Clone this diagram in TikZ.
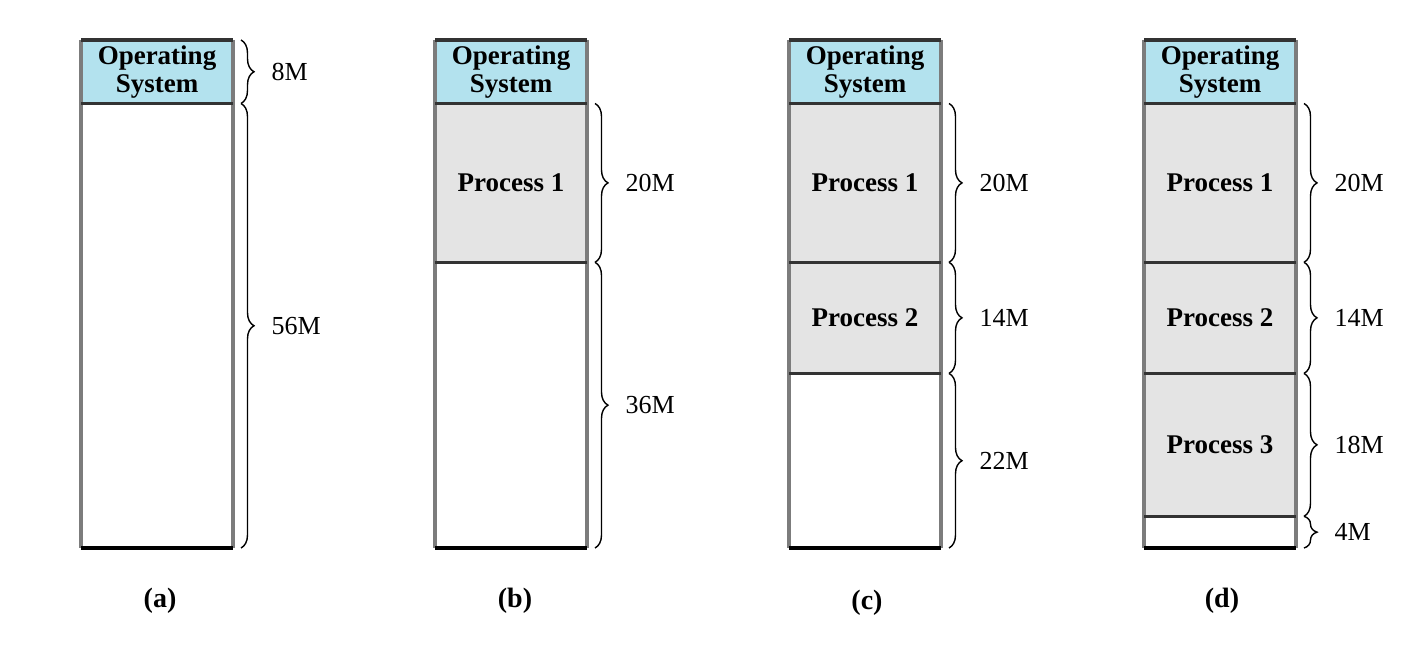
\documentclass[tikz,border=0pt]{standalone}
\usepackage{fontspec}
\setmainfont{Liberation Serif}
\usetikzlibrary{decorations.pathreplacing}
\definecolor{osblue}{HTML}{B3E2EE}
\definecolor{procgray}{HTML}{E4E4E4}
\definecolor{sidegray}{HTML}{7C7C7C}
\definecolor{darkline}{HTML}{333333}
\begin{document}
\begin{tikzpicture}[x=1pt,y=1pt,
  region/.style={minimum width=152pt, inner sep=0pt, outer sep=0pt, align=center,
    font=\fontsize{27}{28}\selectfont\bfseries},
  osbox/.style={region, fill=osblue, minimum height=63.5pt},
  procbox/.style={region, fill=procgray},
  freebox/.style={region, fill=white},
  side/.style={draw=sidegray, line width=3.5pt},
  hsep/.style={draw=darkline, line width=3.5pt},
  hbot/.style={draw=black, line width=3.5pt},
  br/.style={decorate, decoration={brace, amplitude=13pt}, line width=1.4pt},
  sizelab/.style={font=\fontsize{26}{26}\selectfont, anchor=west, inner sep=0pt, midway, xshift=30pt},
  caplab/.style={font=\fontsize{28}{28}\selectfont\bfseries, inner sep=0pt}]
\useasboundingbox (0,0) rectangle (1422,-671);

% ---------- (a)
\node[osbox] (aos) at (157,-71.75) {Operating\\System};
\node[freebox, minimum height=444.5pt] (af) at (157,-325.75) {};
\draw[side] (aos.north west) -- (af.south west);
\draw[side] (aos.north east) -- (af.south east);
\draw[hsep] (aos.north west) -- (aos.north east);
\draw[hsep] (aos.south west) -- (aos.south east);
\draw[hbot] (af.south west) -- (af.south east);
\draw[br] ([xshift=8pt]aos.north east) -- ([xshift=8pt]aos.south east) node[sizelab] {8M};
\draw[br] ([xshift=8pt]af.north east) -- ([xshift=8pt]af.south east) node[sizelab] {56M};
\node[caplab] (la) at (160,-601) {(a)};

% ---------- (b)
\node[osbox] (bos) at (511,-71.75) {Operating\\System};
\node[procbox, minimum height=158.8pt] (bp1) at (511,-182.9) {Process 1};
\node[freebox, minimum height=285.7pt] (bf) at (511,-405.15) {};
\draw[side] (bos.north west) -- (bf.south west);
\draw[side] (bos.north east) -- (bf.south east);
\draw[hsep] (bos.north west) -- (bos.north east);
\draw[hsep] (bos.south west) -- (bos.south east);
\draw[hsep] (bp1.south west) -- (bp1.south east);
\draw[hbot] (bf.south west) -- (bf.south east);
\draw[br] ([xshift=8pt]bp1.north east) -- ([xshift=8pt]bp1.south east) node[sizelab] {20M};
\draw[br] ([xshift=8pt]bf.north east) -- ([xshift=8pt]bf.south east) node[sizelab] {36M};
\node[caplab] (lb) at (515,-601) {(b)};

% ---------- (c)
\node[osbox] (cos) at (865,-71.75) {Operating\\System};
\node[procbox, minimum height=158.8pt] (cp1) at (865,-182.9) {Process 1};
\node[procbox, minimum height=111.1pt] (cp2) at (865,-317.85) {Process 2};
\node[freebox, minimum height=174.6pt] (cf) at (865,-460.7) {};
\draw[side] (cos.north west) -- (cf.south west);
\draw[side] (cos.north east) -- (cf.south east);
\draw[hsep] (cos.north west) -- (cos.north east);
\draw[hsep] (cos.south west) -- (cos.south east);
\draw[hsep] (cp1.south west) -- (cp1.south east);
\draw[hsep] (cp2.south west) -- (cp2.south east);
\draw[hbot] (cf.south west) -- (cf.south east);
\draw[br] ([xshift=8pt]cp1.north east) -- ([xshift=8pt]cp1.south east) node[sizelab] {20M};
\draw[br] ([xshift=8pt]cp2.north east) -- ([xshift=8pt]cp2.south east) node[sizelab] {14M};
\draw[br] ([xshift=8pt]cf.north east) -- ([xshift=8pt]cf.south east) node[sizelab] {22M};
\node[caplab] (lc) at (867,-603) {(c)};

% ---------- (d)
\node[osbox] (dos) at (1220,-71.75) {Operating\\System};
\node[procbox, minimum height=158.8pt] (dp1) at (1220,-182.9) {Process 1};
\node[procbox, minimum height=111.1pt] (dp2) at (1220,-317.85) {Process 2};
\node[procbox, minimum height=142.9pt] (dp3) at (1220,-444.85) {Process 3};
\node[freebox, minimum height=31.7pt] (df) at (1220,-532.15) {};
\draw[side] (dos.north west) -- (df.south west);
\draw[side] (dos.north east) -- (df.south east);
\draw[hsep] (dos.north west) -- (dos.north east);
\draw[hsep] (dos.south west) -- (dos.south east);
\draw[hsep] (dp1.south west) -- (dp1.south east);
\draw[hsep] (dp2.south west) -- (dp2.south east);
\draw[hsep] (dp3.south west) -- (dp3.south east);
\draw[hbot] (df.south west) -- (df.south east);
\draw[br] ([xshift=8pt]dp1.north east) -- ([xshift=8pt]dp1.south east) node[sizelab] {20M};
\draw[br] ([xshift=8pt]dp2.north east) -- ([xshift=8pt]dp2.south east) node[sizelab] {14M};
\draw[br] ([xshift=8pt]dp3.north east) -- ([xshift=8pt]dp3.south east) node[sizelab] {18M};
\draw[br] ([xshift=8pt]df.north east) -- ([xshift=8pt]df.south east) node[sizelab] {4M};
\node[caplab] (ld) at (1222,-601) {(d)};
\end{tikzpicture}
\end{document}
